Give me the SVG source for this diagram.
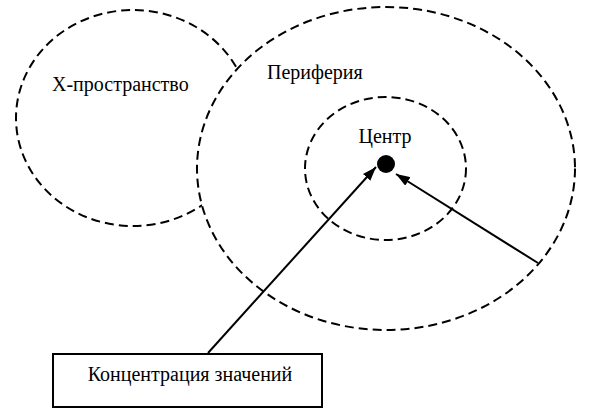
<svg xmlns="http://www.w3.org/2000/svg" width="609" height="419" viewBox="0 0 609 419">
  <style>
    .dash { fill: #fff; stroke: #000; stroke-width: 2; stroke-dasharray: 9 5; }
    .lbl { font-family: "Liberation Serif", "Times New Roman", serif; font-size: 20px; fill: #000; }
    .conn { stroke: #000; stroke-width: 2; fill: none; marker-end: url(#arr); }
  </style>
  <defs>
    <marker id="arr" viewBox="0 0 14 10" refX="14" refY="5" markerWidth="14" markerHeight="10" markerUnits="userSpaceOnUse" orient="auto">
      <path d="M0,0 L14,5 L0,10 Z" fill="#000"/>
    </marker>
  </defs>
  <rect width="609" height="419" fill="#fff"/>
  <g id="x-space">
    <ellipse class="dash" cx="133" cy="118" rx="117" ry="108"/>
    <text class="lbl" x="52" y="91">X-пространство</text>
  </g>
  <g id="periphery">
    <ellipse class="dash" cx="386" cy="168.5" rx="189" ry="161.5"/>
    <text class="lbl" x="267" y="79">Периферия</text>
  </g>
  <g id="center">
    <ellipse class="dash" cx="385.5" cy="168.5" rx="80.5" ry="71.5"/>
    <text class="lbl" x="385" y="143" text-anchor="middle">Центр</text>
    <circle cx="386" cy="164" r="9" fill="#000"/>
  </g>
  <g id="concentration">
    <rect x="53" y="354" width="269" height="53" fill="#fff" stroke="#000" stroke-width="2"/>
    <text class="lbl" x="190" y="381" text-anchor="middle">Концентрация значений</text>
  </g>
  <g id="connectors">
    <line class="conn" x1="208" y1="353" x2="376" y2="167"/>
    <line class="conn" x1="538" y1="263" x2="396" y2="174"/>
  </g>
</svg>
